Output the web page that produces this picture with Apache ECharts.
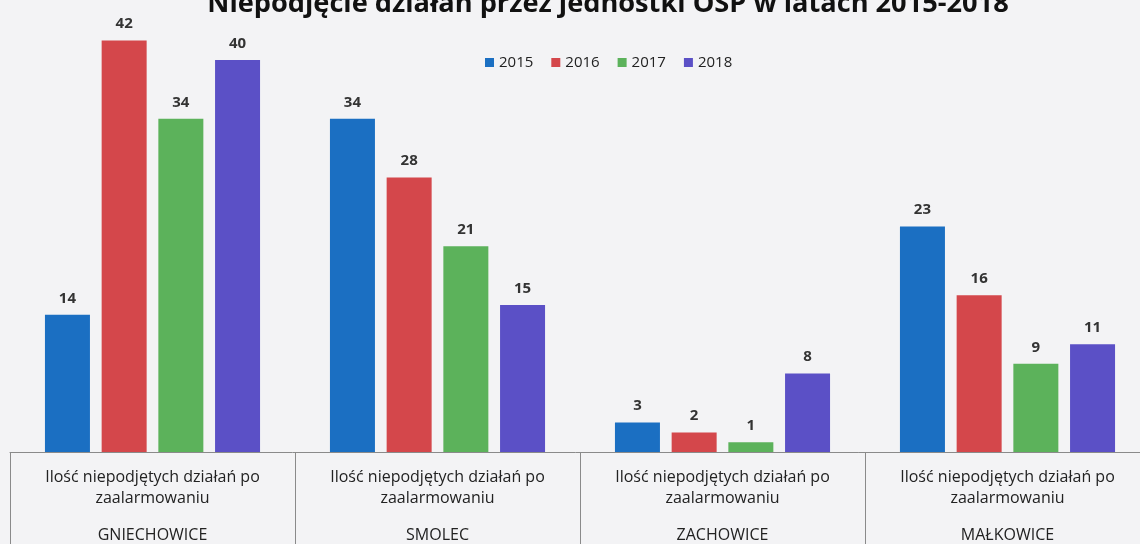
<!DOCTYPE html>
<html>
<head>
<meta charset="utf-8">
<script src="https://cdn.jsdelivr.net/npm/echarts@6/dist/echarts.min.js"></script>
<style>
  html, body { margin: 0; padding: 0; background: #f3f3f5; }
  #chart { width: 1140px; height: 544px; }
</style>
</head>
<body>
<div id="chart"></div>
<script>
  // dane z wykresu
  const units = ['GNIECHOWICE', 'SMOLEC', 'ZACHOWICE', 'MAŁKOWICE']
  const subLabel = ['Ilość niepodjętych działań po', 'zaalarmowaniu']
  const years = ['2015', '2016', '2017', '2018']
  const v2015 = [14, 34, 3, 23]
  const v2016 = [42, 28, 2, 16]
  const v2017 = [34, 21, 1, 9]
  const v2018 = [40, 15, 8, 11]
  const colors = ['#1b6fc2', '#d4474b', '#5cb25b', '#5b50c6']

  const chart = echarts.init(document.getElementById('chart'))
  const values = [v2015, v2016, v2017, v2018]

  const option = {
    backgroundColor: '#f3f3f5',
    color: colors,
    textStyle: { fontFamily: 'Open Sans' },
    title: {
      text: 'Niepodjęcie działań przez jednostki OSP w latach 2015-2018',
      left: 603,
      textAlign: 'center',
      top: -14,
      textStyle: { fontSize: 27.2, fontWeight: 'bold', color: '#111', fontFamily: 'Open Sans' }
    },
    legend: {
      data: years,
      top: 50,
      left: 480,
      icon: 'rect',
      itemWidth: 9,
      itemHeight: 9,
      itemGap: 18,
      textStyle: { fontSize: 15, color: '#222' }
    },
    grid: {
      left: 10,
      width: 1140,
      top: 11,
      bottom: 92,
      outerBoundsMode: 'none'
    },
    xAxis: {
      type: 'category',
      data: units,
      axisLine: { lineStyle: { color: '#8a8a8a', width: 1 } },
      axisTick: { show: true, length: 100, lineStyle: { color: '#8a8a8a' } },
      axisLabel: {
        margin: 15,
        formatter: value => '{a|' + subLabel[0] + '}\n{a|' + subLabel[1] + '}\n{b|' + value + '}',
        rich: {
          a: { fontSize: 16, lineHeight: 21, color: '#222', fontFamily: 'Open Sans' },
          b: { fontSize: 16, lineHeight: 53, color: '#222', fontFamily: 'Open Sans' }
        }
      }
    },
    yAxis: {
      type: 'value',
      min: 0,
      max: 45,
      show: false,
      splitLine: { show: false }
    },
    series: years.map((y, i) => ({
      name: y,
      type: 'bar',
      data: values[i],
      barWidth: 45,
      barGap: '26%',
      label: {
        show: true,
        position: 'top',
        distance: 9,
        fontSize: 15,
        fontWeight: 'bold',
        color: '#333'
      }
    }))
  }
  chart.setOption(option)
</script>
</body>
</html>
